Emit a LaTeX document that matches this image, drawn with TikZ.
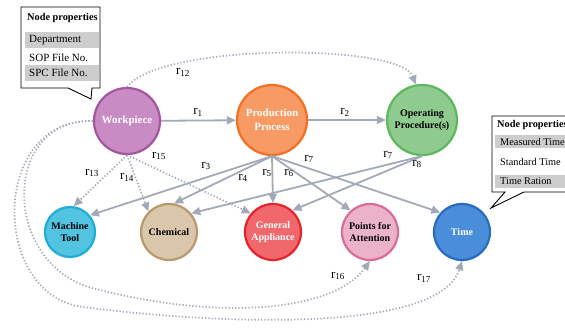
\documentclass[tikz,border=0pt]{standalone}
\usepackage{fontspec}
\setmainfont{Liberation Serif}
\usetikzlibrary{arrows.meta}

\definecolor{edgegray}{HTML}{A3AAB7}
\definecolor{rowgray}{HTML}{CDCDCD}
\definecolor{wpfill}{HTML}{C98BC4}\definecolor{wpline}{HTML}{A4559F}
\definecolor{ppfill}{HTML}{F79A63}\definecolor{ppline}{HTML}{F26F24}
\definecolor{opfill}{HTML}{8FCB8F}\definecolor{opline}{HTML}{5DB85D}
\definecolor{mtfill}{HTML}{52C4E2}\definecolor{mtline}{HTML}{1EADD5}
\definecolor{chfill}{HTML}{D9C6AB}\definecolor{chline}{HTML}{B8986C}
\definecolor{gafill}{HTML}{F0686C}\definecolor{galine}{HTML}{E6252A}
\definecolor{pafill}{HTML}{EBB3C9}\definecolor{paline}{HTML}{D96D96}
\definecolor{tmfill}{HTML}{4A8DD9}\definecolor{tmline}{HTML}{2A6BBF}

\tikzset{
  entity/.style={circle, inner sep=0pt, line width=2.2pt, align=center,
    font=\bfseries\fontsize{10}{11.5}\selectfont},
  bigentity/.style={entity, font=\bfseries\fontsize{11}{14}\selectfont},
  rel/.style={draw=edgegray, line width=1.8pt,
    -{Triangle[length=9pt,width=8pt]}},
  dotrel/.style={draw=edgegray, line width=1.7pt, dash pattern=on 1.3pt off 2pt,
    -{Triangle[length=9pt,width=8pt]}},
  lbl/.style={inner sep=0pt, font=\fontsize{13}{14}\selectfont},
  callout/.style={draw=black, fill=white, line width=0.9pt},
  proptitle/.style={anchor=west, inner sep=0pt, font=\bfseries\fontsize{10.3}{12}\selectfont},
  propitem/.style={anchor=west, inner sep=0pt, font=\fontsize{11}{12}\selectfont},
  propitemr/.style={anchor=west, inner sep=0pt, font=\fontsize{10.3}{12}\selectfont},
}

\begin{document}
\begin{tikzpicture}[x=1pt, y=-1pt]
\useasboundingbox (0,0) rectangle (565,330);

% property callouts
\draw[callout] (21,7) -- (100,7) -- (100,88) -- (92,88) -- (91,99) -- (68,88) -- (21,88) -- cycle;
\fill[rowgray] (25,32) rectangle (99,48);
\fill[rowgray] (25,65) rectangle (99,81);
\node[proptitle] (lt) at (27,18) {Node properties};
\node[propitem] (l1) at (29,40) {Department};
\node[propitem] (l2) at (29,57.5) {SOP File No.};
\node[propitem] (l3) at (29,73) {SPC File No.};

\draw[callout] (492,116) -- (620,116) -- (620,192) -- (524,192) -- (491,208) -- (505,192) -- (492,192) -- cycle;
\fill[rowgray] (495,135) rectangle (619,148);
\fill[rowgray] (495,175) rectangle (619,188);
\node[proptitle] (rt) at (497,125) {Node properties};
\node[propitemr] (r1) at (500,141.5) {Measured Time};
\node[propitemr] (r2) at (500,162) {Standard Time};
\node[propitemr] (r3) at (500,181.5) {Time Ration};

% entities
\node[bigentity, minimum size=66pt, fill=wpfill, draw=wpline, text=white] (wp) at (127,121) {Workpiece};
\node[bigentity, minimum size=70pt, fill=ppfill, draw=ppline, text=white] (pp) at (272,120) {Production\\Process};
\node[entity, minimum size=70pt, fill=opfill, draw=opline] (op) at (422,120) {Operating\\Procedure(s)};
\node[entity, minimum size=50pt, fill=mtfill, draw=mtline] (mt) at (70,232) {Machine\\Tool};
\node[entity, minimum size=56pt, fill=chfill, draw=chline] (ch) at (169,232) {Chemical};
\node[entity, minimum size=56pt, fill=gafill, draw=galine, text=white] (ga) at (273,232) {General\\Appliance};
\node[entity, minimum size=56pt, fill=pafill, draw=paline] (pa) at (370,232) {Points for\\Attention};
\node[entity, minimum size=56pt, fill=tmfill, draw=tmline, text=white] (tm) at (462,232) {Time};

% solid relations
\draw[rel] (wp) -- (pp);
\draw[rel] (pp) -- (op);
\draw[rel] (pp.south) -- (mt.40);
\draw[rel] (pp.south) -- (ch.80);
\draw[rel] (pp.south) -- (ga.north);
\draw[rel] (pp.south) -- (pa.132);
\draw[rel] (pp.south) -- (tm.138);
\draw[rel] (op.south) -- (ch.40);
\draw[rel] (op.south) -- (ga.48);

% dotted relations
\draw[dotrel] (wp.north) .. controls (160,43) and (400,43) .. (op.100);
\draw[dotrel] (wp.south) -- (mt.82);
\draw[dotrel] (wp.south) -- (ch.135);
\draw[dotrel] (wp.south) -- (ga.140);
\draw[dotrel] (wp.west) .. controls (0,118) and (0,270) .. (100,290)
  .. controls (210,318) and (330,315) .. (pa.south);
\draw[dotrel] (wp.west) .. controls (-10,118) and (-10,295) .. (83,307)
  .. controls (240,327) and (440,330) .. (tm.south);

% relation labels
\node[lbl] (n1) at (198,112) {r\textsubscript{1}};
\node[lbl] (n2) at (345,112) {r\textsubscript{2}};
\node[lbl] (n3) at (206,166) {r\textsubscript{3}};
\node[lbl] (n4) at (243,178) {r\textsubscript{4}};
\node[lbl] (n5) at (267,173) {r\textsubscript{5}};
\node[lbl] (n6) at (289,173) {r\textsubscript{6}};
\node[lbl] (n7) at (309,159) {r\textsubscript{7}};
\node[lbl] (n7b) at (388,155) {r\textsubscript{7}};
\node[lbl] (n8) at (417,164) {r\textsubscript{8}};
\node[lbl] (n12) at (183,72) {r\textsubscript{12}};
\node[lbl] (n13) at (92,173) {r\textsubscript{13}};
\node[lbl] (n14) at (127,177) {r\textsubscript{14}};
\node[lbl] (n15) at (159,156) {r\textsubscript{15}};
\node[lbl] (n16) at (338,276) {r\textsubscript{16}};
\node[lbl] (n17) at (424,278) {r\textsubscript{17}};
\end{tikzpicture}
\end{document}
